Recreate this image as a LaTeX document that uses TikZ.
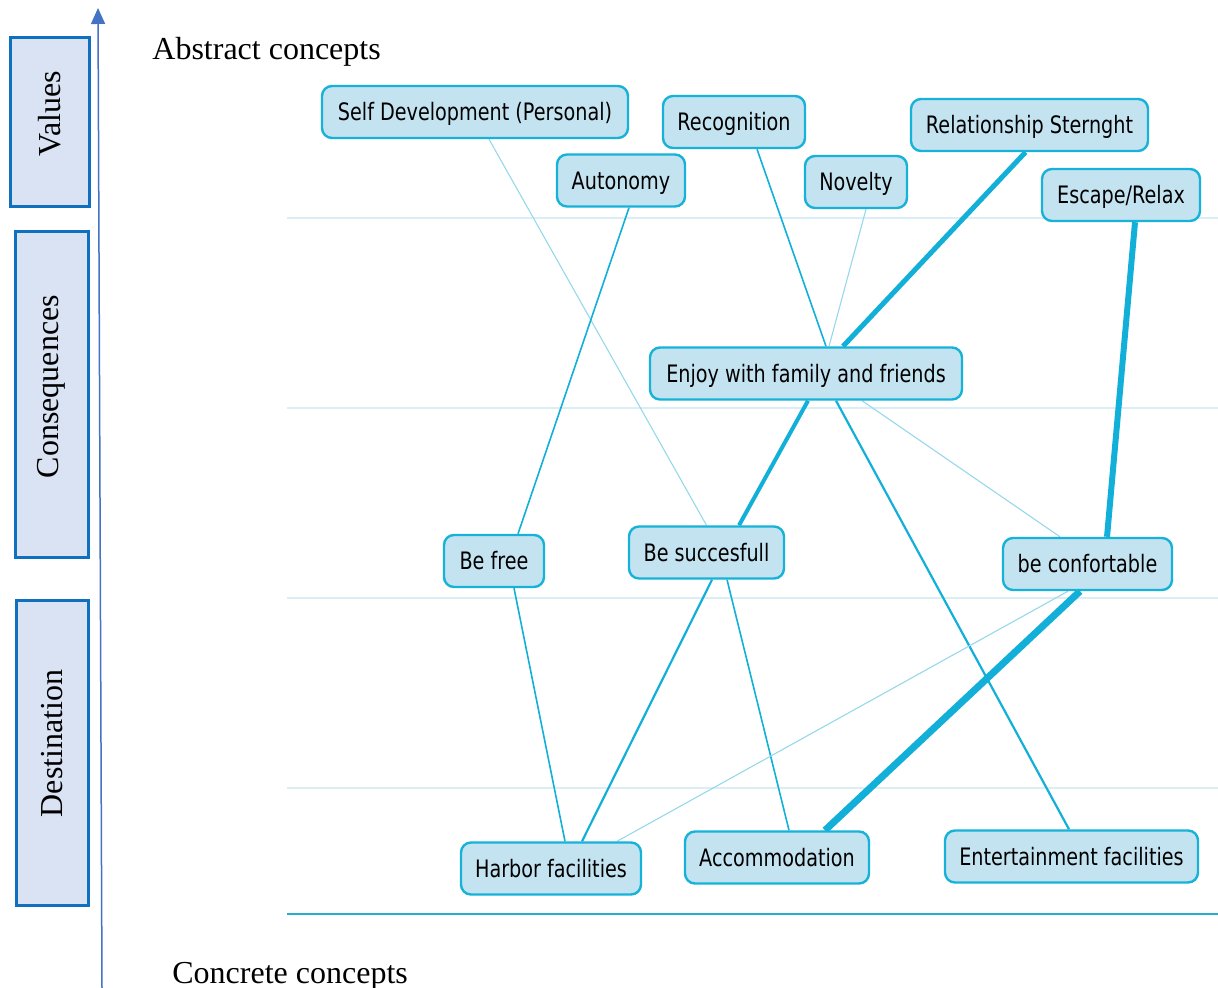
\documentclass[tikz,border=0pt]{standalone}
\usepackage{fontspec}
\setmainfont{Liberation Serif}
\newfontfamily\boxfont[FakeStretch=0.8]{DejaVu Sans}
\usetikzlibrary{calc,backgrounds,arrows.meta}

\definecolor{conceptfill}{RGB}{196,227,241}
\definecolor{conceptline}{RGB}{22,178,216}
\definecolor{linkdark}{RGB}{18,176,216}
\definecolor{linklight}{RGB}{150,216,235}
\definecolor{bandline}{RGB}{218,238,246}
\definecolor{bottomrule}{RGB}{40,172,210}
\definecolor{levelfill}{RGB}{218,227,243}
\definecolor{levelline}{RGB}{16,112,192}
\definecolor{axisblue}{RGB}{68,114,196}

\begin{document}
\begin{tikzpicture}[x=0.5pt,y=-0.5pt,
  concept/.style={draw=conceptline, fill=conceptfill, line width=1.2pt,
    rounded corners=5pt, minimum height=26pt, minimum width=#1, inner xsep=0pt,
    text height=9.5pt, text depth=0.75pt,
    font=\boxfont\fontsize{12}{14}\selectfont, text=black},
  level/.style={draw=levelline, fill=levelfill, line width=1.5pt, rotate=90,
    inner sep=0pt, font=\fontsize{16}{18}\selectfont},
  title/.style={anchor=base west, inner sep=0pt, font=\fontsize{16}{18}\selectfont},
  band/.style={draw=bandline, line width=1pt},
  lightlink/.style={draw=linklight, line width=0.55pt},
  link/.style={draw=linkdark, line width=0.8pt},
  midlink/.style={draw=linkdark, line width=1.1pt},
  boldlink/.style={draw=linkdark, line width=#1}
]
\useasboundingbox (0,0) rectangle (1218,988);

% vertical abstraction axis
\draw[axisblue, line width=0.75pt, -{Triangle[length=8pt,width=7pt]}] (102,988) -- (98,8);
\node[title] (abstract) at (152,60) {Abstract concepts};
\node[title] (concrete) at (172,983) {Concrete concepts};

% level labels (the leading space lifts each word a little above the box centre)
\node[level, minimum width=84.5pt, minimum height=39.5pt] (values) at (49.5,122.5) {\hspace*{9pt}Values};
\node[level, minimum width=162.5pt, minimum height=36.5pt] (conseq) at (51.5,394.5) {\hspace*{8pt}Consequences};
\node[level, minimum width=152.5pt, minimum height=36pt] (dest) at (52,752.5) {\hspace*{9pt}Destination};

% concepts
\node[concept=153pt] (sd) at (475,112) {Self Development (Personal)};
\node[concept=71pt] (rec) at (734,122) {Recognition};
\node[concept=118.5pt] (rel) at (1029.5,125) {Relationship Sternght};
\node[concept=64pt] (aut) at (621,180.5) {Autonomy};
\node[concept=51pt] (nov) at (856,182) {Novelty};
\node[concept=79pt] (esc) at (1121,195) {Escape/Relax};
\node[concept=156pt] (enj) at (806,373.5) {Enjoy with family and friends};
\node[concept=50pt] (free) at (494,561) {Be free};
\node[concept=77.5pt] (succ) at (706.5,552.5) {Be succesfull};
\node[concept=84.5pt] (comf) at (1087.5,564) {be confortable};
\node[concept=90pt] (harb) at (551,868.5) {Harbor facilities};
\node[concept=92pt] (acc) at (777,857.5) {Accommodation};
\node[concept=126.5pt] (ent) at (1071.5,856.5) {Entertainment facilities};

\begin{pgfonlayer}{background}
  % level bands
  \foreach \yy in {218,408,598,788} \draw[band] (287,\yy) -- (1218,\yy);
  \draw[draw=bottomrule, line width=0.9pt] (287,914) -- (1218,914);

  % links between concepts
  \draw[lightlink] ($(sd.south)+(14,0)$) -- ($(succ.north)+(0,0)$);
  \draw[link] ($(aut.south)+(8,0)$) -- ($(free.north)+(24,0)$);
  \draw[link] ($(rec.south)+(23,0)$) -- ($(enj.north)+(20,0)$);
  \draw[lightlink] ($(nov.south)+(10,0)$) -- ($(enj.north)+(23,0)$);
  \draw[boldlink=2.5pt] ($(rel.south)+(-4,0)$) -- ($(enj.north)+(37,0)$);
  \draw[boldlink=3pt] ($(esc.south)+(14,0)$) -- ($(comf.north)+(19.5,0)$);
  \draw[boldlink=2pt] ($(enj.south)+(2,0)$) -- ($(succ.north)+(32.5,0)$);
  \draw[midlink] ($(enj.south)+(30,0)$) -- ($(ent.north)+(-2.5,0)$);
  \draw[lightlink] ($(enj.south)+(56,0)$) -- ($(comf.north)+(-27.5,0)$);
  \draw[link] ($(free.south)+(20,0)$) -- ($(harb.north)+(14,0)$);
  \draw[midlink] ($(succ.south)+(5.5,0)$) -- ($(harb.north)+(31,0)$);
  \draw[link] ($(succ.south)+(20.5,0)$) -- ($(acc.north)+(12,0)$);
  \draw[lightlink] ($(comf.south)+(-19.5,0)$) -- ($(harb.north)+(66,0)$);
  \draw[boldlink=3.5pt] ($(comf.south)+(-7.5,0)$) -- ($(acc.north)+(48,0)$);
\end{pgfonlayer}
\end{tikzpicture}
\end{document}
